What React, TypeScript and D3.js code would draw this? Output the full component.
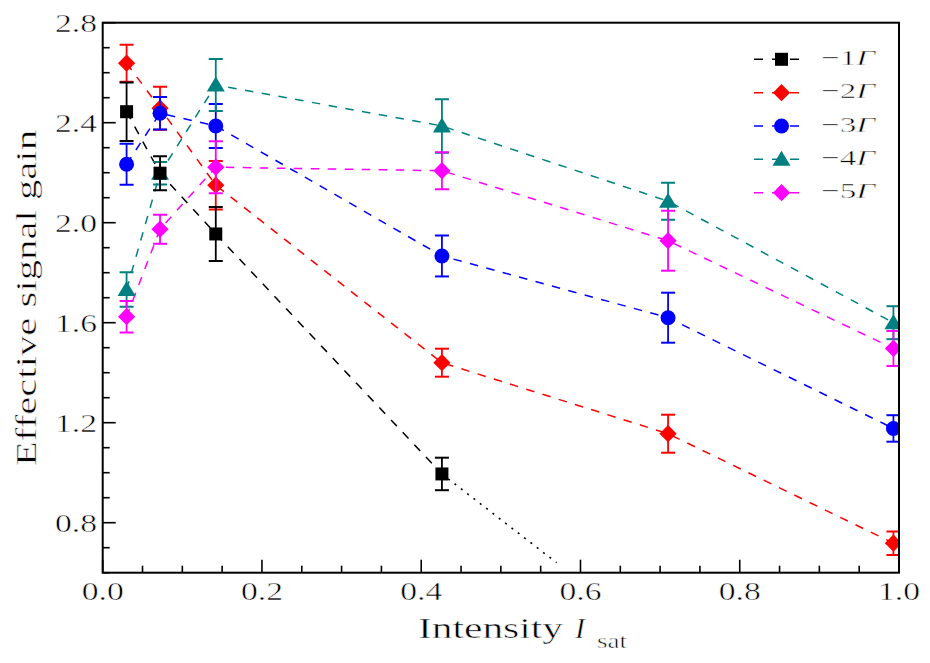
import React from "react";
import * as d3 from "d3";

const xValues = [0.03, 0.072, 0.142, 0.426, 0.71, 0.993];

const labels = ["−1", "−2", "−3", "−4", "−5"];
const colors = ["#000000", "#ff0000", "#0000ff", "#008080", "#ff00ff"];
const markers = ["square", "diamond", "circle", "triangle", "diamond"];

const g1 = [2.444, 2.198, 1.955, 0.995];
const g1Err = [0.117, 0.068, 0.108, 0.065];
const g1ExtX = [0.426, 0.57];
const g1ExtY = [0.995, 0.64];

const g2 = [2.638, 2.458, 2.15, 1.44, 1.156, 0.718];
const g2Err = [0.074, 0.086, 0.097, 0.056, 0.076, 0.047];
const g3 = [2.234, 2.438, 2.387, 1.867, 1.62, 1.177];
const g3Err = [0.082, 0.065, 0.088, 0.082, 0.1, 0.053];
const g4 = [1.733, 2.198, 2.551, 2.387, 2.086, 1.6];
const g4Err = [0.069, 0.045, 0.104, 0.107, 0.074, 0.066];
const g5 = [1.624, 1.974, 2.222, 2.208, 1.928, 1.497];
const g5Err = [0.063, 0.058, 0.104, 0.074, 0.12, 0.07];

const seriesValues = [g1, g2, g3, g4, g5];
const seriesErrors = [g1Err, g2Err, g3Err, g4Err, g5Err];
const drawOrder = [1, 2, 3, 4, 0];

const xTicks = [0, 0.2, 0.4, 0.6, 0.8, 1.0];
const yTicks = [0.8, 1.2, 1.6, 2.0, 2.4, 2.8];

const W = 930;
const H = 663;
const M = { left: 102.7, right: 899, top: 22.7, bottom: 572.7 };
const FONT = "Liberation Serif, Times New Roman, serif";

function Marker({ type, x, y, color }: { type: string; x: number; y: number; color: string }) {
  if (type === "square") {
    const s = 13;
    return <rect x={x - s / 2} y={y - s / 2} width={s} height={s} fill={color} />;
  }
  if (type === "diamond") {
    const d = 8.6;
    return <path d={`M${x},${y - d}L${x + d},${y}L${x},${y + d}L${x - d},${y}Z`} fill={color} />;
  }
  if (type === "circle") {
    return <circle cx={x} cy={y} r={7.5} fill={color} />;
  }
  const hw = 9;
  return <path d={`M${x},${y - 8.5}L${x + hw},${y + 6.5}L${x - hw},${y + 6.5}Z`} fill={color} />;
}

export default function App() {
  const x = d3.scaleLinear().domain([0, 1]).range([M.left, M.right]);
  const y = d3.scaleLinear().domain([0.6, 2.8]).range([M.bottom, M.top]);
  const line = d3
    .line<[number, number]>()
    .x((d) => x(d[0]))
    .y((d) => y(d[1]));

  const xMinor = d3.range(0, 1.0001, 0.05).filter((v) => !xTicks.some((t) => Math.abs(t - v) < 1e-6));
  const yMinor = d3.range(0.6, 2.8001, 0.1).filter((v) => !yTicks.some((t) => Math.abs(t - v) < 1e-6));

  const dash = "8.5,8.5";
  const ts = { fontFamily: FONT, stroke: "#fff", strokeWidth: 0.5 } as React.CSSProperties;

  return (
    <svg width={W} height={H} style={{ position: "absolute", left: 0, top: 0, background: "#fff", fontFamily: FONT }}>
      <defs>
        <clipPath id="plotclip">
          <rect x={M.left} y={M.top} width={M.right - M.left} height={M.bottom - M.top} />
        </clipPath>
      </defs>
      <rect x={0} y={0} width={W} height={H} fill="#fff" />

      <g clipPath="url(#plotclip)">
        {drawOrder.map((si) => {
          const vals = seriesValues[si];
          const pts: [number, number][] = vals.map((v, i) => [xValues[i], v]);
          return (
            <path key={"l" + si} d={line(pts) || ""} fill="none" stroke={colors[si]} strokeWidth={1.5} strokeDasharray={dash} />
          );
        })}
        <path
          d={line(g1ExtX.map((v, i) => [v, g1ExtY[i]] as [number, number])) || ""}
          fill="none"
          stroke="#000"
          strokeWidth={1.6}
          strokeDasharray="2,6"
        />
        {drawOrder.map((si) => {
          const vals = seriesValues[si];
          const errs = seriesErrors[si];
          return (
            <g key={"m" + si}>
              {vals.map((v, i) => {
                const cx = x(xValues[i]);
                const y0 = y(v - errs[i]);
                const y1 = y(v + errs[i]);
                return (
                  <g key={i} stroke={colors[si]}>
                    <line x1={cx} x2={cx} y1={y0} y2={y1} strokeWidth={1.8} />
                    <line x1={cx - 7} x2={cx + 7} y1={y0} y2={y0} strokeWidth={2} />
                    <line x1={cx - 7} x2={cx + 7} y1={y1} y2={y1} strokeWidth={2} />
                  </g>
                );
              })}
              {vals.map((v, i) => (
                <Marker key={"mk" + i} type={markers[si]} x={x(xValues[i])} y={y(v)} color={colors[si]} />
              ))}
            </g>
          );
        })}
      </g>

      <g stroke="#000" strokeWidth={1.6}>
        {xTicks.map((t) => (
          <line key={"xt" + t} x1={x(t)} x2={x(t)} y1={M.bottom} y2={M.bottom - 13} />
        ))}
        {xMinor.map((t) => (
          <line key={"xm" + t} x1={x(t)} x2={x(t)} y1={M.bottom} y2={M.bottom - 7} />
        ))}
        {yTicks.map((t) => (
          <line key={"yt" + t} x1={M.left} x2={M.left + 13} y1={y(t)} y2={y(t)} />
        ))}
        {yMinor.map((t) => (
          <line key={"ym" + t} x1={M.left} x2={M.left + 7} y1={y(t)} y2={y(t)} />
        ))}
      </g>
      <rect x={M.left} y={M.top} width={M.right - M.left} height={M.bottom - M.top} fill="none" stroke="#000" strokeWidth={2} />

      {xTicks.map((t) => (
        <text key={"xl" + t} style={ts} x={x(t)} y={600} fontSize={26} textAnchor="middle" textLength={42} lengthAdjust="spacingAndGlyphs">
          {t.toFixed(1)}
        </text>
      ))}
      {yTicks.map((t) => (
        <text key={"yl" + t} style={ts} x={97} y={y(t) + 9.5} fontSize={26} textAnchor="end" textLength={42} lengthAdjust="spacingAndGlyphs">
          {t.toFixed(1)}
        </text>
      ))}

      <text style={ts} x={418} y={638} fontSize={30} textLength={145} lengthAdjust="spacingAndGlyphs">
        Intensity
      </text>
      <text style={ts} x={575} y={638} fontSize={30} fontStyle="italic">
        I
      </text>
      <text style={ts} x={597} y={648} fontSize={21} textLength={30} lengthAdjust="spacingAndGlyphs">
        sat
      </text>
      <text
        style={ts}
        transform="translate(35.5,466) rotate(-90)"
        fontSize={30}
        textLength={336}
        lengthAdjust="spacingAndGlyphs"
      >
        Effective signal gain
      </text>

      {labels.map((lab, i) => {
        const ry = 59.3 + i * 33.35;
        return (
          <g key={"lg" + i}>
            <line x1={754} x2={799} y1={ry} y2={ry} stroke={colors[i]} strokeWidth={1.5} strokeDasharray="9,9" />
            <Marker type={markers[i]} x={781.5} y={ry} color={colors[i]} />
            <text style={ts} x={821} y={ry + 5.5} fontSize={22} textLength={54} lengthAdjust="spacingAndGlyphs">
              {lab}
              <tspan fontStyle="italic">Γ</tspan>
            </text>
          </g>
        );
      })}
    </svg>
  );
}
